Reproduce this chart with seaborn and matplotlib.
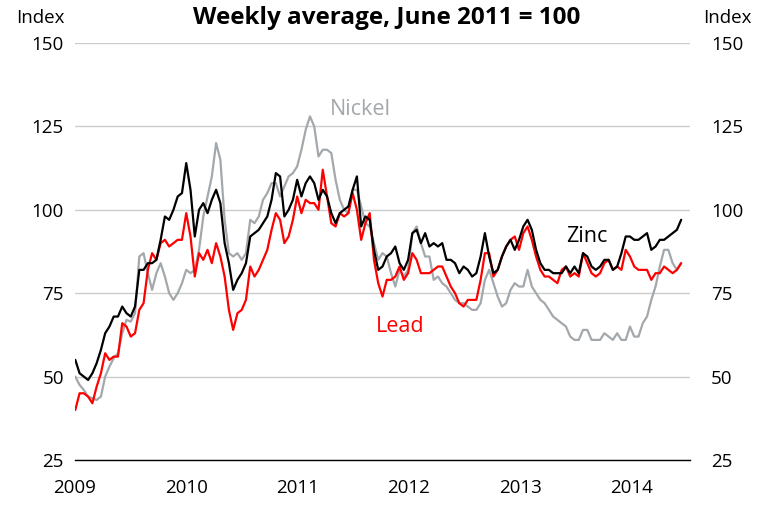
import numpy as np
import pandas as pd
import seaborn as sns
import matplotlib.pyplot as plt
import matplotlib.dates as mdates

sns.set_style("white")
plt.rcParams["font.family"] = ["Open Sans", "DejaVu Sans"]
plt.rcParams["text.color"] = "black"
plt.rcParams["xtick.labelcolor"] = "black"
plt.rcParams["ytick.labelcolor"] = "black"

# fortnightly readings, June 2011 = 100
dates = pd.date_range("2009-01-02", periods=143, freq="14D")

zinc = [55, 51, 50, 49, 51, 54, 58, 63, 65, 68, 68, 71, 69, 68, 71, 82, 82, 84, 84, 85,
        91, 98, 97, 100, 104, 105, 114, 106, 92, 100, 102, 99, 103, 106, 102, 90, 84, 76, 79, 81,
        84, 92, 93, 94, 96, 98, 103, 111, 110, 98, 100, 103, 109, 104, 108, 110, 108, 103, 106, 104,
        99, 96, 99, 100, 101, 106, 110, 95, 98, 97, 88, 82, 83, 86, 87, 89, 84, 82, 85, 93,
        94, 90, 93, 89, 90, 89, 90, 85, 85, 84, 81, 83, 82, 80, 81, 86, 93, 86, 81, 82,
        86, 89, 91, 88, 91, 95, 97, 94, 88, 84, 82, 82, 81, 81, 81, 83, 81, 83, 81, 87,
        86, 83, 82, 83, 85, 85, 82, 83, 87, 92, 92, 91, 91, 92, 93, 88, 89, 91, 91, 92,
        93, 94, 97]

lead = [40, 45, 45, 44, 42, 47, 51, 57, 55, 56, 56, 66, 65, 62, 63, 70, 72, 82, 87, 85,
        90, 91, 89, 90, 91, 91, 99, 92, 80, 87, 85, 88, 84, 90, 86, 80, 70, 64, 69, 70,
        73, 83, 80, 82, 85, 88, 94, 99, 97, 90, 92, 97, 104, 99, 103, 102, 102, 100, 112, 104,
        96, 95, 99, 98, 99, 105, 100, 91, 96, 99, 85, 78, 74, 79, 79, 80, 83, 79, 81, 87,
        85, 81, 81, 81, 82, 83, 83, 80, 77, 75, 72, 71, 73, 73, 73, 79, 87, 87, 80, 82,
        86, 89, 91, 92, 88, 93, 95, 91, 86, 82, 80, 80, 79, 78, 82, 83, 80, 81, 80, 87,
        84, 81, 80, 81, 84, 85, 82, 83, 82, 88, 86, 83, 82, 82, 82, 79, 81, 81, 83, 82,
        81, 82, 84]

nickel = [50, 47.5, 46, 44, 43.5, 43, 44, 50, 53, 55.5, 57, 63, 67, 66.5, 69, 86, 87, 81, 76, 81,
          84, 80, 75, 73, 75, 78, 82, 81, 82, 88, 98, 104, 110, 120, 115, 97, 87, 86, 87, 85,
          87, 97, 96, 98, 103, 105, 108, 108, 104, 107, 110, 111, 113, 118, 124, 128, 125, 116, 118, 118,
          117, 109, 103, 100, 99, 106, 106, 101, 96, 95, 90, 85, 87, 86, 81, 77, 82, 80, 82, 93,
          95, 90, 86, 86, 79, 80, 78, 77, 75, 73, 72, 72, 71, 70, 70, 72, 79, 82, 78, 74,
          71, 72, 76, 78, 77, 77, 82, 77, 75, 73, 72, 70, 68, 67, 66, 65, 62, 61, 61, 64,
          64, 61, 61, 61, 63, 62, 61, 63, 61, 61, 65, 62, 62, 66, 68, 73, 77, 83, 88, 88,
          84, 82, 84]

metals = ["Nickel", "Lead", "Zinc"]
colours = {"Nickel": "#a3a8ac", "Lead": "#ff0000", "Zinc": "#000000"}
yticks = [25, 50, 75, 100, 125, 150]

df = pd.DataFrame({
    "date": np.tile(dates, 3),
    "metal": np.repeat(metals, len(dates)),
    "value": nickel + lead + zinc,
})

fig = plt.figure(figsize=(7.57, 5.05), dpi=100)
ax = fig.add_axes([75 / 757, 45 / 505, 615 / 757, 417 / 505])

sns.lineplot(data=df, x="date", y="value", hue="metal", hue_order=metals,
             palette=colours, linewidth=1.6, estimator=None, legend=False, ax=ax)

ax.set_xlim(pd.Timestamp("2009-01-01"), pd.Timestamp("2014-07-12"))
ax.set_ylim(25, 150)
ax.set_xlabel("")
ax.set_ylabel("")

ax.xaxis.set_major_locator(mdates.YearLocator())
ax.xaxis.set_major_formatter(mdates.DateFormatter("%Y"))
ax.xaxis.set_minor_locator(mdates.MonthLocator(bymonth=[4, 7, 10]))
ax.tick_params(axis="x", which="major", direction="in", length=5, width=1,
               color="black", pad=14, labelsize=13.5)
ax.tick_params(axis="x", which="minor", direction="in", length=3, width=1, color="black")

ax.set_yticks(yticks)
ax.tick_params(axis="y", length=0, pad=8, labelsize=13.5)
ax.grid(axis="y", color="#cccccc", linewidth=1)
ax.set_axisbelow(True)
for s in ["left", "right", "top"]:
    ax.spines[s].set_visible(False)
ax.spines["bottom"].set_color("black")
ax.spines["bottom"].set_linewidth(1)

ax2 = ax.twinx()
ax2.set_ylim(25, 150)
ax2.set_yticks(yticks)
ax2.tick_params(axis="y", length=0, pad=15, labelsize=13.5)
for s in ax2.spines.values():
    s.set_visible(False)

# series labels
ax.text(pd.Timestamp("2011-07-27"), 130, "Nickel", color="#a3a8ac", fontsize=15.5,
        ha="center", va="center")
ax.text(pd.Timestamp("2013-08-08"), 92, "Zinc", color="black", fontsize=15.5,
        ha="center", va="center")
ax.text(pd.Timestamp("2011-12-05"), 65, "Lead", color="#ff0000", fontsize=15.5,
        ha="center", va="center")

fig.text(387 / 757, 1 - 18 / 505, "Weekly average, June 2011 = 100", fontsize=17.5,
         fontweight="bold", ha="center", va="center")
fig.text(65 / 757, 1 - 18 / 505, "Index", fontsize=13.5, ha="right", va="center")
fig.text(727 / 757, 1 - 18 / 505, "Index", fontsize=13.5, ha="center", va="center")

fig.savefig("out.png", dpi=100)
